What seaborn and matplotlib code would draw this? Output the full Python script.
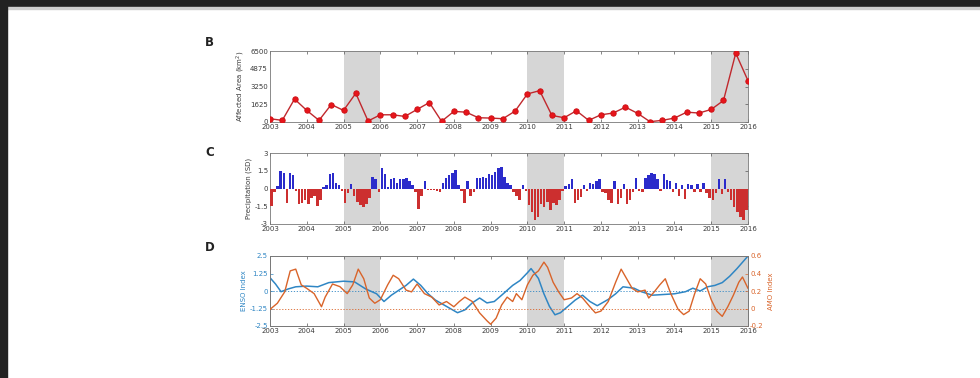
import numpy as np
import pandas as pd
import matplotlib
matplotlib.use("Agg")
import matplotlib.pyplot as plt
from matplotlib.patches import Rectangle
import seaborn as sns

# ---- data -------------------------------------------------------------
years = list(range(2003, 2017))
year_labels = [str(y) for y in years]
shade_spans = [(2005, 2006), (2010, 2011), (2015, 2016)]

# Affected area, sampled every four months (km^2)
area_time = [2003 + i / 3 for i in range(40)]
area_km2 = [300, 150, 2100, 1060, 150, 1600, 1060, 2630, 90, 660,
            660, 510, 1150, 1780, 60, 970, 900, 390, 360, 300,
            1000, 2570, 2870, 600, 390, 1030, 150, 660, 820, 1360,
            790, 30, 150, 360, 900, 820, 1150, 1970, 6300, 3780]
area_ticks = [0, 1625, 3250, 4875, 6500]

# Monthly standardized precipitation anomaly (SD)
precip_2003 = [-1.5, -0.3, 0.2, 1.5, 1.3, -1.2, 1.3, 1.1, -0.2, -1.3, -1.2, -1.0]
precip_2004 = [-1.3, -0.8, -0.6, -1.5, -1.0, 0.1, 0.3, 1.2, 1.3, 0.5, 0.3, -0.2]
precip_2005 = [-1.2, -0.4, 0.4, -0.6, -1.1, -1.4, -1.6, -1.3, -0.8, 1.0, 0.8, -0.3]
precip_2006 = [1.7, 1.2, 0.1, 0.8, 0.9, 0.5, 0.8, 0.8, 0.9, 0.6, 0.3, -0.3]
precip_2007 = [-1.7, -0.6, 0.6, -0.1, -0.1, -0.1, -0.2, -0.3, 0.5, 0.9, 1.1, 1.3]
precip_2008 = [1.6, 0.3, -0.2, -1.2, 0.6, -0.6, -0.3, 0.9, 0.9, 1.0, 0.9, 1.2]
precip_2009 = [1.1, 1.4, 1.7, 1.8, 1.0, 0.5, 0.3, -0.3, -0.6, -1.0, 0.3, -0.2]
precip_2010 = [-1.4, -2.0, -2.7, -2.4, -1.3, -1.6, -1.1, -1.8, -1.2, -1.4, -1.0, -0.2]
precip_2011 = [0.2, 0.4, 0.8, -1.2, -1.0, -0.7, 0.3, -0.2, 0.5, 0.4, 0.6, 0.8]
precip_2012 = [-0.3, -0.4, -1.0, -1.2, 0.6, -1.3, -0.8, 0.4, -1.3, -1.0, -0.3, 0.9]
precip_2013 = [-0.2, -0.3, 0.9, 1.1, 1.3, 1.2, 0.8, -0.2, 1.2, 0.7, 0.6, -0.3]
precip_2014 = [0.5, -0.6, 0.3, -0.9, 0.4, 0.3, -0.3, 0.4, -0.3, 0.5, -0.4, -0.8]
precip_2015 = [-1.0, -0.4, 0.8, -0.5, 0.8, -0.3, -1.0, -1.6, -2.0, -2.4, -2.7, -1.8]
precip_ticks = [-3, -1.5, 0, 1.5, 3]

# ENSO index
enso_time = [2003.0, 2003.15, 2003.3, 2003.5, 2003.7, 2004.0, 2004.3, 2004.6, 2005.0, 2005.3,
             2005.6, 2005.9, 2006.1, 2006.3, 2006.5, 2006.7, 2006.9, 2007.1, 2007.3, 2007.5,
             2007.8, 2008.1, 2008.3, 2008.5, 2008.7, 2008.9, 2009.1, 2009.3, 2009.6, 2009.8,
             2010.0, 2010.1, 2010.3, 2010.45, 2010.6, 2010.75, 2010.9, 2011.1, 2011.3, 2011.5,
             2011.7, 2011.9, 2012.2, 2012.4, 2012.6, 2012.9, 2013.1, 2013.4, 2013.7, 2014.0,
             2014.3, 2014.5, 2014.7, 2014.9, 2015.1, 2015.3, 2015.5, 2015.7, 2016.0]
enso_index = [0.95, 0.5, -0.05, 0.15, 0.3, 0.35, 0.3, 0.6, 0.7, 0.65,
              0.15, -0.2, -0.75, -0.3, 0.05, 0.4, 0.85, 0.4, -0.2, -0.65,
              -1.1, -1.55, -1.35, -0.85, -0.5, -0.85, -0.75, -0.3, 0.4, 0.75,
              1.3, 1.6, 0.9, -0.2, -1.1, -1.7, -1.55, -1.1, -0.65, -0.3,
              -0.75, -1.05, -0.6, -0.2, 0.3, 0.2, -0.05, -0.3, -0.25, -0.2,
              -0.05, 0.2, 0.0, 0.3, 0.4, 0.6, 1.05, 1.6, 2.5]
enso_ticks = [-2.5, -1.25, 0, 1.25, 2.5]

# AMO index
amo_time = [2003.0, 2003.2, 2003.4, 2003.55, 2003.7, 2003.85, 2004.0, 2004.2, 2004.4, 2004.5,
            2004.7, 2004.9, 2005.1, 2005.25, 2005.4, 2005.55, 2005.7, 2005.85, 2006.0, 2006.2,
            2006.35, 2006.5, 2006.7, 2006.85, 2007.0, 2007.2, 2007.4, 2007.6, 2007.8, 2008.0,
            2008.15, 2008.3, 2008.5, 2008.7, 2008.9, 2009.0, 2009.15, 2009.3, 2009.45, 2009.6,
            2009.7, 2009.85, 2010.0, 2010.15, 2010.3, 2010.45, 2010.55, 2010.7, 2010.85, 2011.0,
            2011.2, 2011.35, 2011.5, 2011.7, 2011.85, 2012.0, 2012.2, 2012.4, 2012.55, 2012.7,
            2012.85, 2013.0, 2013.2, 2013.3, 2013.45, 2013.6, 2013.75, 2013.9, 2014.1, 2014.25,
            2014.4, 2014.55, 2014.7, 2014.85, 2015.0, 2015.15, 2015.3, 2015.45, 2015.6, 2015.75,
            2015.85, 2016.0]
amo_index = [-0.01, 0.06, 0.19, 0.43, 0.45, 0.27, 0.23, 0.17, 0.02, 0.13,
             0.28, 0.25, 0.17, 0.27, 0.45, 0.34, 0.12, 0.06, 0.10, 0.27,
             0.38, 0.34, 0.21, 0.19, 0.28, 0.17, 0.13, 0.04, 0.08, 0.02,
             0.08, 0.13, 0.08, -0.05, -0.14, -0.18, -0.11, 0.04, 0.13, 0.08,
             0.17, 0.10, 0.27, 0.38, 0.43, 0.53, 0.47, 0.30, 0.19, 0.10,
             0.12, 0.17, 0.12, 0.02, -0.05, -0.03, 0.08, 0.30, 0.45, 0.34,
             0.23, 0.19, 0.21, 0.12, 0.19, 0.27, 0.34, 0.17, -0.01, -0.07,
             -0.03, 0.17, 0.34, 0.28, 0.10, -0.03, -0.09, 0.02, 0.15, 0.30,
             0.36, 0.23]
amo_ticks = [-0.2, 0, 0.2, 0.4, 0.6]

# ---- styling ------------------------------------------------------------
sns.set_theme(style="white")
plt.rcParams["font.family"] = ["DejaVu Sans"]
plt.rcParams["xtick.direction"] = "in"
plt.rcParams["ytick.direction"] = "in"

TXT = "#3a3a3a"
SHADE = "#d6d6d6"
ENSO_C = "#2f86c4"
AMO_C = "#d9642a"
FS = 5

fig = plt.figure(figsize=(9.8, 3.78), dpi=100)
fig.patch.set_facecolor("white")

L, W = 270 / 980, 478 / 980


def make_axes(top_px, bot_px):
    return fig.add_axes([L, 1 - bot_px / 378, W, (bot_px - top_px) / 378])


def style_axes(ax):
    ax.set_xlim(2003, 2016)
    ax.set_xticks(years)
    ax.set_xticklabels(year_labels)
    ax.tick_params(axis="both", labelsize=FS, colors="#555555", labelcolor=TXT,
                   length=2, width=0.5, pad=1.5, top=True, bottom=True)
    for s in ax.spines.values():
        s.set_color("#777777")
        s.set_linewidth(0.6)
    ax.set_xlabel("")
    for a, b in shade_spans:
        ax.axvspan(a, b, color=SHADE, lw=0, zorder=0)


# ---- B: affected area ---------------------------------------------------
axB = make_axes(51, 122)
style_axes(axB)
axB.tick_params(right=True)
df_area = pd.DataFrame({"t": area_time, "area": area_km2})
sns.lineplot(data=df_area, x="t", y="area", ax=axB, color="#c0282d", lw=1.0,
             marker="o", markersize=3.8, markerfacecolor="#e8151b",
             markeredgecolor="#d01015", zorder=3)
axB.set_ylim(0, 6500)
axB.set_yticks(area_ticks)
axB.set_yticklabels([str(v) for v in area_ticks])
axB.set_xlabel("")
axB.set_ylabel("Affected Area (km$^2$)", fontsize=FS, color=TXT, labelpad=2)

# ---- C: precipitation anomaly ------------------------------------------
axC = make_axes(153, 224)
style_axes(axC)
axC.tick_params(right=True)
precip = (precip_2003 + precip_2004 + precip_2005 + precip_2006 + precip_2007
          + precip_2008 + precip_2009 + precip_2010 + precip_2011 + precip_2012
          + precip_2013 + precip_2014 + precip_2015)
month_time = [2003 + (i + 0.5) / 12 for i in range(len(precip))]
df_p = pd.DataFrame({"t": month_time, "p": precip})
df_p["sign"] = np.where(df_p["p"] >= 0, "wet", "dry")
sns.barplot(data=df_p, x="t", y="p", hue="sign", native_scale=True, dodge=False,
            width=0.8, palette={"wet": "#1010e6", "dry": "#e61515"},
            legend=False, ax=axC, linewidth=0, zorder=3)
axC.set_xlim(2003, 2016)
axC.set_ylim(-3, 3)
axC.set_yticks(precip_ticks)
axC.set_yticklabels(["-3", "-1.5", "0", "1.5", "3"])
axC.set_xticks(years)
axC.set_xticklabels(year_labels)
axC.set_xlabel("")
axC.set_ylabel("Precipitation (SD)", fontsize=FS, color=TXT, labelpad=2)

# ---- D: ENSO and AMO ---------------------------------------------------
axD = make_axes(256, 326)
style_axes(axD)
axD2 = axD.twinx()
axD2.set_xlim(2003, 2016)

df_enso = pd.DataFrame({"t": enso_time, "v": enso_index})
df_amo = pd.DataFrame({"t": amo_time, "v": amo_index})

axD.axhline(0, color=ENSO_C, lw=0.6, ls=(0, (1.5, 2)), zorder=1)
sns.lineplot(data=df_enso, x="t", y="v", ax=axD, color=ENSO_C, lw=1.1, zorder=3)
axD.set_ylim(-2.5, 2.5)
axD.set_yticks(enso_ticks)
axD.set_yticklabels(["-2.5", "-1.25", "0", "1.25", "2.5"])
axD.tick_params(axis="y", labelcolor=ENSO_C, colors=ENSO_C, right=False)
axD.set_xlabel("")
axD.set_ylabel("ENSO Index", fontsize=FS, color=ENSO_C, labelpad=2)

axD2.axhline(0, color=AMO_C, lw=0.6, ls=(0, (1.5, 2)), zorder=1)
sns.lineplot(data=df_amo, x="t", y="v", ax=axD2, color=AMO_C, lw=1.0, zorder=3)
axD2.set_ylim(-0.2, 0.6)
axD2.set_yticks(amo_ticks)
axD2.set_yticklabels(["-0.2", "0", "0.2", "0.4", "0.6"])
axD2.tick_params(axis="y", labelsize=FS, labelcolor=AMO_C, colors=AMO_C,
                 length=2, width=0.5, pad=1.5, direction="in")
axD2.set_ylabel("AMO Index", fontsize=FS, color=AMO_C, labelpad=3)
axD2.set_xlabel("")
for s in axD2.spines.values():
    s.set_color("#777777")
    s.set_linewidth(0.6)

# ---- panel letters -------------------------------------------------------
for letter, ypx in [("B", 42), ("C", 152), ("D", 247)]:
    fig.text(205 / 980, 1 - ypx / 378, letter, fontsize=8.5, fontweight="bold",
             color="#222222", ha="left", va="center")

# ---- frame strips --------------------------------------------------------
fig.patches.append(Rectangle((0, 1 - 7 / 378), 1, 7 / 378, transform=fig.transFigure,
                             color="#222222", zorder=10))
fig.patches.append(Rectangle((0, 1 - 9 / 378), 1, 2 / 378, transform=fig.transFigure,
                             color="#cfcfcf", zorder=10))
fig.patches.append(Rectangle((0, 0), 7 / 980, 1, transform=fig.transFigure,
                             color="#222222", zorder=10))

fig.savefig("out.png", dpi=100)
